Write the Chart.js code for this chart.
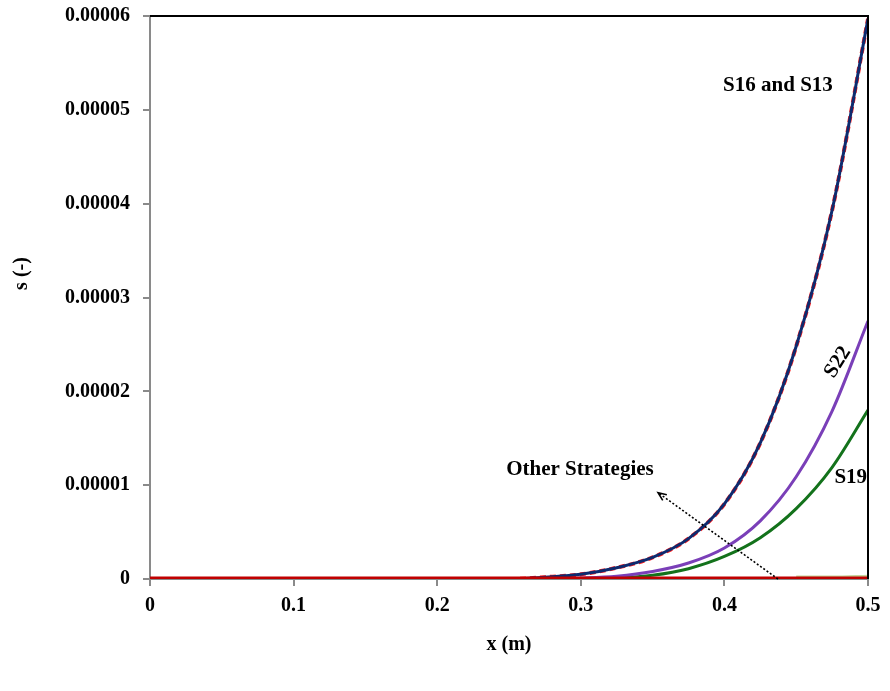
<!DOCTYPE html>
<html>
<head>
<meta charset="utf-8">
<script src="https://cdn.jsdelivr.net/npm/chart.js@4.4.1/dist/chart.umd.min.js"></script>
<style>
  body { margin: 0; background: #fff; }
</style>
</head>
<body>
<canvas id="sChart" width="890" height="691"></canvas>
<script>
// s along x for each strategy
const xValues = [0, 0.05, 0.1, 0.15, 0.2, 0.25, 0.275, 0.3, 0.325, 0.35, 0.375, 0.4, 0.425, 0.45, 0.475, 0.5];
const s16 = [0, 0, 0, 0, 0, 0, 2e-7, 5e-7, 1.2e-6, 2.3e-6, 4.3e-6, 8.0e-6, 1.45e-5, 2.48e-5, 3.93e-5, 5.97e-5];
const s13 = [0, 0, 0, 0, 0, 0, 2e-7, 5e-7, 1.2e-6, 2.3e-6, 4.3e-6, 8.0e-6, 1.45e-5, 2.48e-5, 3.93e-5, 5.97e-5];
const s22 = [0, 0, 0, 0, 0, 0, 0, 1e-7, 3e-7, 8e-7, 1.7e-6, 3.3e-6, 6.2e-6, 1.09e-5, 1.79e-5, 2.75e-5];
const s19 = [0, 0, 0, 0, 0, 0, 0, 0, 1e-7, 4e-7, 1.1e-6, 2.4e-6, 4.4e-6, 7.5e-6, 1.19e-5, 1.8e-5];
const otherStrategies = [0, 0, 0, 0, 0, 0, 0, 0, 0, 0, 0, 0, 0, 0, 0, 0];
const otherTail = [null, null, null, null, null, null, null, null, null, null, null, null, null, 2e-7, 2e-7, 3e-7];

const xTicks = [0, 0.1, 0.2, 0.3, 0.4, 0.5];
const xTickLabels = ['0', '0.1', '0.2', '0.3', '0.4', '0.5'];
const yTicks = [0, 0.00001, 0.00002, 0.00003, 0.00004, 0.00005, 0.00006];
const yTickLabels = ['0', '0.00001', '0.00002', '0.00003', '0.00004', '0.00005', '0.00006'];

const serif = '"Liberation Serif", "Times New Roman", serif';

function points(values) {
    return xValues.map((x, i) => ({ x: x, y: values[i] }));
}

function line(label, values, color, width, dash) {
    return {
        label: label,
        data: points(values),
        borderColor: color,
        borderWidth: width,
        borderDash: dash || [],
        pointRadius: 0,
        fill: false,
        spanGaps: false,
        cubicInterpolationMode: 'monotone'
    };
}

// frame, annotations, arrow and y title
const decorations = {
    id: 'decorations',
    afterDraw(chart) {
        const { ctx, chartArea: a, scales: { x, y } } = chart;
        ctx.save();

        ctx.strokeStyle = '#000';
        ctx.lineWidth = 2;
        ctx.beginPath();
        ctx.moveTo(a.left, a.top);
        ctx.lineTo(a.right, a.top);
        ctx.lineTo(a.right, a.bottom);
        ctx.stroke();

        // dotted arrow across the low curves
        const x0 = x.getPixelForValue(0.4373), y0 = y.getPixelForValue(0);
        const x1 = x.getPixelForValue(0.3538), y1 = y.getPixelForValue(0.0000092);
        ctx.lineWidth = 1.6;
        ctx.setLineDash([2, 2]);
        ctx.beginPath();
        ctx.moveTo(x0, y0);
        ctx.lineTo(x1, y1);
        ctx.stroke();
        ctx.setLineDash([]);
        const ang = Math.atan2(y0 - y1, x0 - x1);
        ctx.beginPath();
        ctx.moveTo(x1 + 9 * Math.cos(ang - 0.4), y1 + 9 * Math.sin(ang - 0.4));
        ctx.lineTo(x1, y1);
        ctx.lineTo(x1 + 9 * Math.cos(ang + 0.4), y1 + 9 * Math.sin(ang + 0.4));
        ctx.stroke();

        ctx.fillStyle = '#000';
        ctx.font = 'bold 21px ' + serif;
        ctx.textAlign = 'center';
        ctx.textBaseline = 'middle';
        ctx.fillText('S16 and S13', x.getPixelForValue(0.4373), y.getPixelForValue(0.0000526));
        ctx.fillText('Other Strategies', x.getPixelForValue(0.2994), y.getPixelForValue(0.0000117));
        ctx.fillText('S19', x.getPixelForValue(0.488), y.getPixelForValue(0.0000108));

        ctx.save();
        ctx.translate(x.getPixelForValue(0.479), y.getPixelForValue(0.0000231));
        ctx.rotate(-58 * Math.PI / 180);
        ctx.fillText('S22', 0, 0);
        ctx.restore();

        ctx.font = 'bold 20px ' + serif;
        ctx.translate(a.left - 128, (a.top + a.bottom) / 2 - 24);
        ctx.rotate(-Math.PI / 2);
        ctx.fillText('s (-)', 0, 0);

        ctx.restore();
    }
};

new Chart(document.getElementById('sChart').getContext('2d'), {
    type: 'line',
    data: {
        datasets: [
            line('Other Strategies', otherStrategies, '#c00000', 5),
            line('S16', s16, '#0e2a6e', 3),
            line('S13', s13, '#ff1a1a', 4, [6, 4]),
            line('S22', s22, '#7a3fb8', 3),
            line('S19', s19, '#13721b', 3),
            line('Other Strategies (tail)', otherTail, '#c3d69b', 3)
        ]
    },
    options: {
        responsive: false,
        animation: false,
        layout: { padding: { top: 16, right: 22, left: 0, bottom: 0 } },
        plugins: {
            legend: { display: false },
            tooltip: { enabled: false }
        },
        scales: {
            x: {
                type: 'linear',
                min: 0,
                max: 0.5,
                afterFit(scale) {
                    scale.height = 112;
                    scale.paddingLeft = 0;
                    scale.paddingRight = 0;
                },
                afterBuildTicks(scale) { scale.ticks = xTicks.map(v => ({ value: v })); },
                border: { color: '#8a8a8a', width: 2 },
                grid: { drawOnChartArea: false, tickLength: 7, tickColor: '#8a8a8a', lineWidth: 2 },
                ticks: {
                    autoSkip: false,
                    maxRotation: 0,
                    padding: 8,
                    color: '#000',
                    font: { family: serif, size: 20, weight: 'bold' },
                    callback: (value, index) => xTickLabels[index]
                },
                title: {
                    display: true,
                    text: 'x (m)',
                    color: '#000',
                    font: { family: serif, size: 20, weight: 'bold' },
                    padding: { top: 0, bottom: 34 }
                }
            },
            y: {
                type: 'linear',
                min: 0,
                max: 0.00006,
                afterFit(scale) {
                    scale.width = 150;
                    scale.paddingTop = 0;
                    scale.paddingBottom = 0;
                },
                afterBuildTicks(scale) { scale.ticks = yTicks.map(v => ({ value: v })); },
                border: { color: '#8a8a8a', width: 2 },
                grid: { drawOnChartArea: false, tickLength: 7, tickColor: '#8a8a8a', lineWidth: 2 },
                ticks: {
                    padding: 13,
                    color: '#000',
                    font: { family: serif, size: 20, weight: 'bold' },
                    callback: (value, index) => yTickLabels[index]
                }
            }
        }
    },
    plugins: [decorations]
});
</script>
</body>
</html>
